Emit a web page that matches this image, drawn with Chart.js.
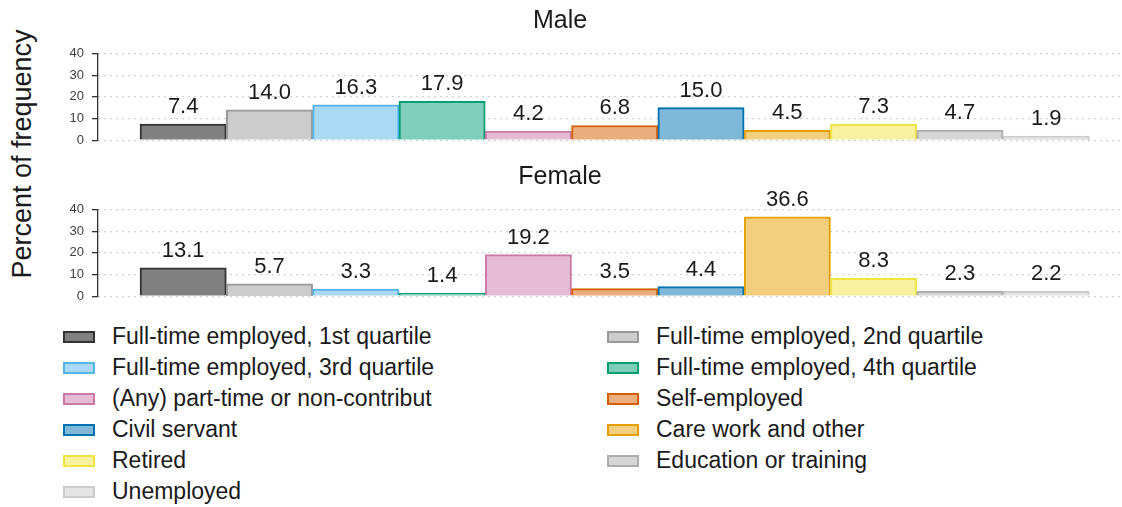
<!DOCTYPE html>
<html>
<head>
<meta charset="utf-8">
<script src="https://cdn.jsdelivr.net/npm/chart.js@4.4.1/dist/chart.umd.min.js"></script>
<style>
  html, body { margin: 0; padding: 0; background: #fff; }
  #wrap { position: relative; width: 1122px; height: 507px; overflow: hidden; font-family: "Liberation Sans", Arial, sans-serif; }
  canvas { position: absolute; left: 0; }
  #ytitle { position: absolute; left: 22px; top: 154px; transform: translate(-50%, -50%) rotate(-90deg); white-space: nowrap; font-size: 27px; color: #1a1a1a; }
  #legend { position: absolute; left: 63px; top: 321px; width: 1000px; display: grid; grid-template-columns: 544px 456px; row-gap: 0; }
  .item { height: 31px; display: flex; align-items: center; font-size: 23px; color: #1a1a1a; }
  .sw { width: 28px; height: 8px; border: 2px solid; margin-right: 17px; flex: none; }
</style>
</head>
<body>
<div id="wrap">
  <div id="ytitle">Percent of frequency</div>
  <canvas id="male" width="1122" height="156" style="top:0"></canvas>
  <canvas id="female" width="1122" height="156" style="top:156px"></canvas>
  <div id="legend"></div>
</div>
<script>
// employment status categories, in plotting order
const categories = [
  'Full-time employed, 1st quartile',
  'Full-time employed, 2nd quartile',
  'Full-time employed, 3rd quartile',
  'Full-time employed, 4th quartile',
  '(Any) part-time or non-contribut',
  'Self-employed',
  'Civil servant',
  'Care work and other',
  'Retired',
  'Education or training',
  'Unemployed'
];
const maleValues = [7.4, 14.0, 16.3, 17.9, 4.2, 6.8, 15.0, 4.5, 7.3, 4.7, 1.9];
const femaleValues = [13.1, 5.7, 3.3, 1.4, 19.2, 3.5, 4.4, 36.6, 8.3, 2.3, 2.2];
const yTicks = [0, 10, 20, 30, 40];

const borderColors = ['#333333', '#999999', '#56B4E9', '#009E73', '#CC79A7', '#D55E00',
  '#0072B2', '#E69F00', '#F0E442', '#ADADAD', '#CCCCCC'];
const fillColors = ['#808080', '#CCCCCC', '#AAD9F4', '#7FCEB9', '#E5BCD3', '#EAAE7F',
  '#7FB8D8', '#F2CF7F', '#F7F1A0', '#D6D6D6', '#E5E5E5'];

Chart.defaults.font.family = '"Liberation Sans", Arial, sans-serif';
Chart.defaults.color = '#1a1a1a';

const barLabels = {
  id: 'barLabels',
  afterDatasetsDraw(chart) {
    const ctx = chart.ctx;
    const meta = chart.getDatasetMeta(0);
    ctx.save();
    ctx.font = '22px "Liberation Sans", Arial, sans-serif';
    ctx.fillStyle = '#1a1a1a';
    ctx.textAlign = 'center';
    ctx.textBaseline = 'alphabetic';
    meta.data.forEach((bar, i) => {
      const v = chart.data.datasets[0].data[i].y;
      ctx.fillText(v.toFixed(1), bar.x, bar.y - 11);
    });
    ctx.restore();
  }
};

function makePanel(id, title, values) {
  return new Chart(document.getElementById(id), {
    type: 'bar',
    data: {
      datasets: [{
        data: values.map((v, i) => ({ x: i + 1, y: v })),
        backgroundColor: fillColors,
        borderColor: borderColors,
        borderWidth: 2,
        barPercentage: 1,
        categoryPercentage: 1
      }]
    },
    options: {
      responsive: false,
      animation: false,
      layout: { padding: { left: 0, right: 2, top: 0, bottom: 14 } },
      plugins: {
        legend: { display: false },
        tooltip: { enabled: false },
        title: {
          display: true,
          text: title,
          font: { size: 25, weight: 'normal' },
          color: '#1a1a1a',
          padding: { top: 6.5, bottom: 17 }
        }
      },
      scales: {
        x: { type: 'linear', display: false, offset: false, min: 0.013, max: 11.855 },
        y: {
          min: 0, max: 40,
          afterBuildTicks(scale) { scale.ticks = yTicks.map(v => ({ value: v })); },
          afterFit(scale) { scale.width = 98; },
          ticks: { font: { size: 13 }, color: '#404040', padding: 8, autoSkip: false },
          grid: {
            color: '#c4c4c4', lineWidth: 1.3,
            tickColor: '#333333', tickLength: 6, tickWidth: 1.3, tickBorderDash: []
          },
          border: { display: true, color: '#333333', width: 1.3, dash: [1.5, 4.5] }
        }
      }
    },
    plugins: [barLabels]
  });
}

makePanel('male', 'Male', maleValues);
makePanel('female', 'Female', femaleValues);

const legend = document.getElementById('legend');
categories.forEach((c, i) => {
  const item = document.createElement('div');
  item.className = 'item';
  const sw = document.createElement('span');
  sw.className = 'sw';
  sw.style.background = fillColors[i];
  sw.style.borderColor = borderColors[i];
  const txt = document.createElement('span');
  txt.textContent = c;
  item.appendChild(sw);
  item.appendChild(txt);
  legend.appendChild(item);
});
</script>
</body>
</html>
